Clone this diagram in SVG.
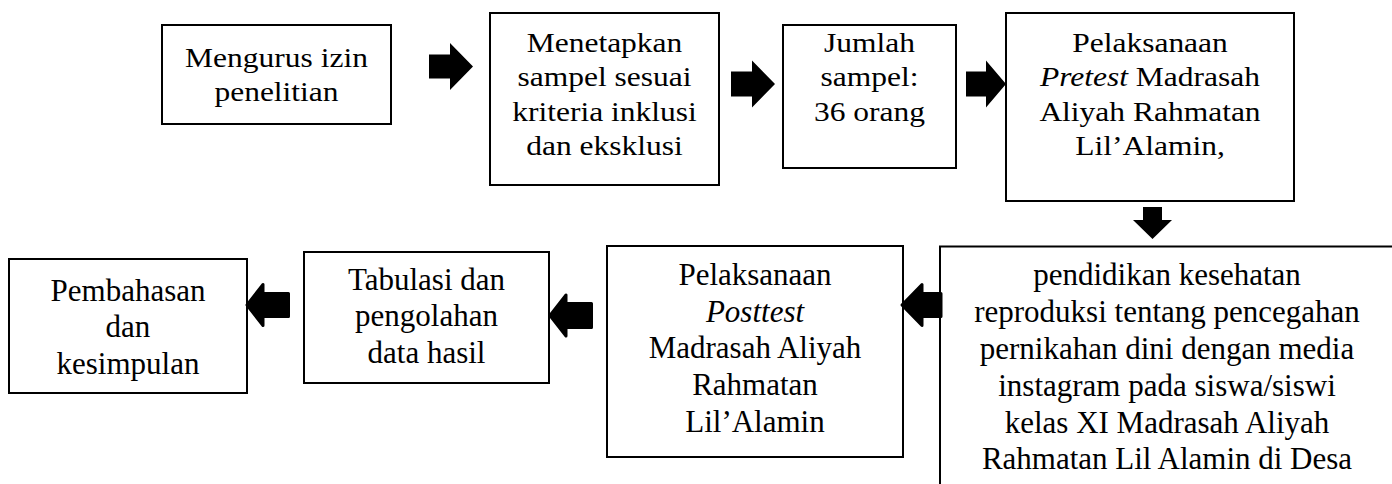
<svg xmlns="http://www.w3.org/2000/svg" width="1392" height="484" viewBox="0 0 1392 484">
<style>
.box{fill:#fff;stroke:#000;stroke-width:2}
.t{font-family:"Liberation Serif","Times New Roman",serif;font-size:31.5px;fill:#000;text-anchor:middle}
.b{font-family:"Liberation Serif","Times New Roman",serif;font-size:31px;fill:#000;text-anchor:middle}
.i{font-style:italic}
.ar{fill:#000}
.arr{fill:#000;stroke:#000;stroke-width:3;stroke-linejoin:round}
</style>
<rect width="1392" height="484" fill="#fff"/>
<g id="n1">
<rect class="box" x="162" y="25" width="229" height="99"/>
<g transform="translate(276.5,67) scale(1,0.88)"><text class="t"><tspan x="0" y="0">Mengurus izin</tspan><tspan x="0" y="38.6">penelitian</tspan></text></g>
</g>
<g id="n2">
<rect class="box" x="490" y="13" width="229" height="172"/>
<g transform="translate(604.5,52) scale(1,0.88)"><text class="t"><tspan x="0" y="0">Menetapkan</tspan><tspan x="0" y="39.2">sampel sesuai</tspan><tspan x="0" y="78.4">kriteria inklusi</tspan><tspan x="0" y="117.6">dan eksklusi</tspan></text></g>
</g>
<g id="n3">
<rect class="box" x="783" y="25" width="173" height="143"/>
<g transform="translate(869.5,52) scale(1,0.88)"><text class="t"><tspan x="0" y="0">Jumlah</tspan><tspan x="0" y="39.2">sampel:</tspan><tspan x="0" y="78.4">36 orang</tspan></text></g>
</g>
<g id="n4">
<rect class="box" x="1006" y="13" width="288" height="188"/>
<g transform="translate(1150,52) scale(1,0.88)"><text class="t"><tspan x="0" y="0">Pelaksanaan</tspan><tspan x="0" y="39.2"><tspan class="i">Pretest</tspan> Madrasah</tspan><tspan x="0" y="78.4">Aliyah Rahmatan</tspan><tspan x="0" y="117.6">Lil’Alamin,</tspan></text></g>
</g>
<g id="n5">
<rect class="box" x="940" y="246.5" width="470" height="260"/>
<text class="b"><tspan x="1167" y="285">pendidikan kesehatan</tspan><tspan x="1167" y="322">reproduksi tentang pencegahan</tspan><tspan x="1167" y="358.5">pernikahan dini dengan media</tspan><tspan x="1167" y="395.5">instagram pada siswa/siswi</tspan><tspan x="1167" y="432.5">kelas XI Madrasah Aliyah</tspan><tspan x="1167" y="469">Rahmatan Lil Alamin di Desa</tspan></text>
</g>
<g id="n6">
<rect class="box" x="607" y="246" width="296" height="211"/>
<text class="b"><tspan x="755" y="285">Pelaksanaan</tspan><tspan x="755" y="321.7" class="i">Posttest</tspan><tspan x="755" y="358.3">Madrasah Aliyah</tspan><tspan x="755" y="395">Rahmatan</tspan><tspan x="755" y="431.7">Lil’Alamin</tspan></text>
</g>
<g id="n7">
<rect class="box" x="304" y="252" width="245" height="131"/>
<text class="b"><tspan x="426.5" y="289.5">Tabulasi dan</tspan><tspan x="426.5" y="326">pengolahan</tspan><tspan x="426.5" y="362.5">data hasil</tspan></text>
</g>
<g id="n8">
<rect class="box" x="9" y="259" width="238" height="134"/>
<text class="b"><tspan x="128" y="300.5">Pembahasan</tspan><tspan x="128" y="337">dan</tspan><tspan x="128" y="373.5">kesimpulan</tspan></text>
</g>
<g id="connectors">
<polygon class="ar" points="429,54.5 450,54.5 450,43 473,66.5 450,90 450,78.5 429,78.5"/>
<polygon class="ar" points="731,71.5 752,71.5 752,60.5 775,84 752,107.5 752,96.5 731,96.5"/>
<polygon class="ar" points="966,71.5 986,71.5 986,60.5 1006,84 986,107.5 986,96.5 966,96.5"/>
<polygon class="ar" points="1143,207 1162,207 1162,220 1172,220 1152.5,239 1133,220 1143,220"/>
<polygon class="arr" points="902,305 922,284.5 922,293.5 941,293.5 941,316.5 922,316.5 922,325.5"/>
<polygon class="arr" points="550,315.5 566,295 566,303.5 591.5,303.5 591.5,327.5 566,327.5 566,336"/>
<polygon class="arr" points="247,305 263,284.5 263,293.5 288.5,293.5 288.5,316.5 263,316.5 263,325.5"/>
</g>
</svg>
